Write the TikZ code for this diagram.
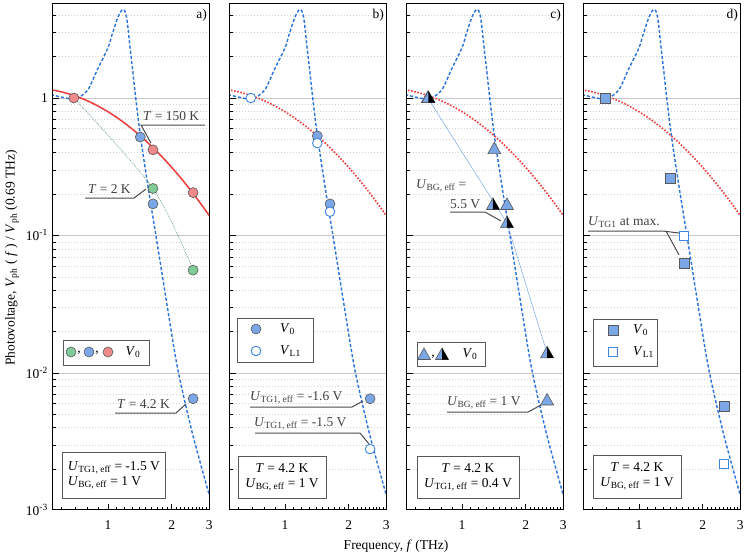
\documentclass[tikz,border=0pt]{standalone}
\usepackage{fontspec}
\setmainfont{Liberation Serif}
\begin{document}
\begin{tikzpicture}[x=1pt,y=-1pt,font=\fontsize{13.5}{15}\selectfont,
  bdash/.style={draw=lblue,line width=1.4pt,dash pattern=on 3.2pt off 2pt},
  rdot/.style={draw=lred,line width=1.6pt,dash pattern=on 1.6pt off 1.6pt},
  rsolid/.style={draw=lred,line width=1.5pt},
  grmaj/.style={draw=black!22,line width=0.8pt},
  grmin/.style={draw=black!18,line width=0.5pt,dash pattern=on 1.5pt off 1.5pt},
  mk/.style={draw=black!65,line width=0.6pt},
  box/.style={draw=black!65,line width=0.8pt,fill=white,inner sep=3pt},
  lead/.style={draw=black!70,line width=1pt},
  ann/.style={text=black!75,inner sep=0pt}]
\definecolor{mblue}{HTML}{7BA7E6}
\definecolor{oblue}{HTML}{3F86E0}
\definecolor{lblue}{HTML}{2A72DC}
\definecolor{lred}{HTML}{EE3B3B}
\definecolor{mred}{HTML}{F08A8A}
\definecolor{mgreen}{HTML}{80CC98}
\tikzset{
 fc/.pic={\draw[mk,fill=mblue] (0,0) circle[radius=5pt];},
 rc/.pic={\draw[mk,fill=mred] (0,0) circle[radius=5pt];},
 gc/.pic={\draw[mk,fill=mgreen] (0,0) circle[radius=5pt];},
 oc/.pic={\draw[draw=oblue,line width=0.9pt,fill=white] (0,0) circle[radius=4.8pt];},
 tri/.pic={\draw[mk,fill=mblue] (-6.5pt,-4.5pt)--(6.5pt,-4.5pt)--(0,7pt)--cycle;},
 trib/.pic={\draw[mk,fill=mblue] (-6.5pt,-4.5pt)--(6.5pt,-4.5pt)--(0,7pt)--cycle;
            \fill[black] (0,7pt)--(6.5pt,-4.5pt)--(0,-4.5pt)--cycle;},
 fsq/.pic={\draw[mk,fill=mblue] (-5pt,-5pt) rectangle (5pt,5pt);},
 osq/.pic={\draw[draw=oblue,line width=0.9pt,fill=white] (-4.5pt,-4.5pt) rectangle (4.5pt,4.5pt);}
}
\def\bluecurve{plot[smooth] coordinates {(-0.2696,0.025) (-0.2076,0.003) (-0.1549,-0.006) (-0.0969,0.055) (-0.0506,0.205) (0.0000,0.365) (0.0170,0.45) (0.0414,0.565) (0.055,0.615) (0.065,0.638) (0.0719,0.645) (0.079,0.635) (0.088,0.585) (0.0950,0.50) (0.1038,0.37) (0.1173,0.19) (0.1271,0.05) (0.1523,-0.27) (0.1903,-0.66) (0.226,-1) (0.28,-1.52) (0.330,-1.98) (0.40,-2.45) (0.4871,-2.94)}}
\def\redcurve{plot[domain=-0.27:0.487,samples=40] (\x,{-0.10-0.9485*\x-1.324*\x*\x})}
\fill[white] (0,0) rectangle (747,558);
\useasboundingbox (0,0) rectangle (747,558);
% panels
\foreach \L/\lab in {53/a,230/b,407/c,584/d}{
 \begin{scope}[shift={(\L+55,98)},x=212pt,y=137.5pt]
  \foreach \n in {-3,-2,-1,0}{
   \foreach \k in {2,...,9}{
     \pgfmathsetmacro\yy{\n+log10(\k)}
     \ifdim\yy pt<0.684pt
       \draw[grmin] (-0.2596,\yy) -- (0.4771,\yy);
       \draw[black,line width=0.6pt] (-0.2596,\yy) -- ++(3pt,0);
     \fi}}
  \foreach \n in {-2,-1,0}{
   \draw[grmaj] (-0.2596,\n) -- (0.4771,\n);
   \draw[black,line width=0.7pt] (-0.2596,\n) -- ++(6pt,0);}
  \foreach \f in {0.6,0.7,0.8,0.9,1.1,1.2,1.3,1.4,1.5,1.6,1.7,1.8,1.9,2.1,2.2,2.3,2.4,2.5,2.6,2.7,2.8,2.9}{
   \pgfmathsetmacro\xx{log10(\f)}
   \draw[black,line width=0.6pt] (\xx,-2.996) -- ++(0,3pt);}
  \foreach \f/\t in {1/1,2/2,3/3}{
   \pgfmathsetmacro\xx{log10(\f)}
   \draw[black,line width=0.7pt] (\xx,-2.996) -- ++(0,6pt);
   \node[anchor=north,inner sep=0pt] (xt\lab\f) at (\xx,-3.07) {\t};}
  \begin{scope}
   \clip (-0.2596,-2.996) rectangle (0.4771,0.684);
   \draw[bdash] \bluecurve;
   \ifnum\L=53 \draw[rsolid] \redcurve;\else\draw[rdot] \redcurve;\fi
  \end{scope}
  \draw[black,line width=1pt] (-0.2596,-2.996) rectangle (0.4771,0.684);
 \end{scope}
 \node[anchor=north east,inner sep=0pt] (lab\lab) at (\L+154,9) {\lab)};
}
% panel a
\begin{scope}[shift={(108,98)},x=212pt,y=137.5pt]
 \draw[draw=mgreen!80!black,line width=0.6pt,dash pattern=on 1pt off 1pt] plot[smooth] coordinates {(-0.1612,0) (0.2122,-0.658) (0.4014,-1.252)};
 \pic at (-0.1612,0) {rc};
 \pic at (0.2122,-0.377) {rc};
 \pic at (0.4014,-0.688) {rc};
 \pic at (0.1523,-0.284) {fc};
 \pic at (0.2122,-0.770) {fc};
 \pic at (0.4014,-2.187) {fc};
 \pic at (0.2122,-0.658) {gc};
 \pic at (0.4014,-1.252) {gc};
\end{scope}
\node[ann,anchor=base west] (a1) at (143,120) {\textit{T} = 150 K};
\draw[lead] (205,125) -- (141,125) -- (151,143);
\node[ann,anchor=base west] (a2) at (88,193) {\textit{T} = 2 K};
\draw[lead] (85,198) -- (134,198) -- (146,189);
\node[ann,anchor=base west] (a3) at (117,408) {\textit{T} = 4.2 K};
\draw[lead] (115,413) -- (176,413) -- (186,404);
\node[box,minimum width=86pt,minimum height=25pt] (lga) at (106,352.5) {};
\pic at (71,352) {gc}; \pic at (89,352) {fc}; \pic at (108,352) {rc};
\node[inner sep=0pt] at (79,353) {,}; \node[inner sep=0pt] at (97,353) {,};
\node[inner sep=0pt] (lgat) at (133,352) {\textit{V}\textsubscript{0}};
\node[box,minimum width=103pt,minimum height=46pt,align=left,anchor=north west,inner sep=2pt] (ia) at (62,452) {\textit{U}\textsubscript{TG1, eff} = -1.5 V\\\textit{U}\textsubscript{BG, eff} = 1 V};
% panel b
\begin{scope}[shift={(285,98)},x=212pt,y=137.5pt]
 \pic at (0.1523,-0.276) {fc};
 \pic at (0.2122,-0.770) {fc};
 \pic at (0.4014,-2.187) {fc};
 \pic at (-0.1612,0) {oc};
 \pic at (0.1523,-0.328) {oc};
 \pic at (0.2122,-0.827) {oc};
 \pic at (0.4014,-2.553) {oc};
\end{scope}
\node[box,minimum width=76pt,minimum height=44pt] (lgb) at (275,340) {};
\pic at (256,329) {fc}; \pic at (256,351) {oc};
\node[inner sep=0pt,anchor=west] (lgb1) at (280,329) {\textit{V}\textsubscript{0}};
\node[inner sep=0pt,anchor=west] (lgb2) at (280,351) {\textit{V}\textsubscript{L1}};
\node[ann,anchor=base west] (b1) at (250,400) {\textit{U}\textsubscript{TG1, eff} = -1.6 V};
\draw[lead] (250,407) -- (352,407) -- (363,401);
\node[ann,anchor=base west] (b2) at (254,426) {\textit{U}\textsubscript{TG1, eff} = -1.5 V};
\draw[lead] (255,433) -- (360,433) -- (369,444);
\node[box,minimum width=88pt,minimum height=42pt,align=center,inner sep=2pt] (ib) at (282,477) {\textit{T} = 4.2 K\\\textit{U}\textsubscript{BG, eff} = 1 V};
% panel c
\begin{scope}[shift={(462,98)},x=212pt,y=137.5pt]
 \draw[draw=oblue!70,line width=0.5pt] (-0.1612,0) -- (0.2122,-0.910) -- (0.4014,-1.857);
 \pic at (-0.1612,0) {tri};
 \pic at (0.1523,-0.372) {tri};
 \pic at (0.2122,-0.778) {tri};
 \pic at (0.4014,-2.20) {tri};
 \pic at (-0.1582,0) {trib};
 \pic at (0.1461,-0.778) {trib};
 \pic at (0.2122,-0.910) {trib};
 \pic at (0.4014,-1.857) {trib};
\end{scope}
\node[ann,anchor=base west] (c1) at (416,188) {\textit{U}\textsubscript{BG, eff} =};
\node[ann,anchor=base west] (c2) at (450,208) {5.5 V};
\draw[lead] (450,212) -- (485,212) -- (501,221);
\node[ann,anchor=base west] (c3) at (447,405) {\textit{U}\textsubscript{BG, eff} = 1 V};
\draw[lead] (447,412) -- (528,412) -- (541,405);
\node[box,minimum width=68pt,minimum height=24pt] (lgc) at (451,354) {};
\pic at (424,355) {tri}; \pic at (442,355) {trib};
\node[inner sep=0pt] at (433,357) {,};
\node[inner sep=0pt] (lgct) at (470,354) {\textit{V}\textsubscript{0}};
\node[box,minimum width=102pt,minimum height=42pt,align=center,inner sep=2pt] (ic) at (468,477) {\textit{T} = 4.2 K\\\textit{U}\textsubscript{TG1, eff} = 0.4 V};
% panel d
\begin{scope}[shift={(639,98)},x=212pt,y=137.5pt]
 \pic at (-0.1612,0) {fsq};
 \pic at (0.1461,-0.585) {fsq};
 \pic at (0.2122,-1.20) {fsq};
 \pic at (0.4014,-2.244) {fsq};
 \pic at (0.2122,-1.004) {osq};
 \pic at (0.4014,-2.658) {osq};
\end{scope}
\node[ann,anchor=base west] (d1) at (588,225) {\textit{U}\textsubscript{TG1} at max.};
\draw[lead] (588,231) -- (663,231) -- (679,233);
\draw[lead] (666,231) -- (679,255);
\node[box,minimum width=64pt,minimum height=47pt] (lgd) at (625,342.5) {};
\pic at (613,330) {fsq}; \pic at (613,352) {osq};
\node[inner sep=0pt,anchor=west] (lgd1) at (633,330) {\textit{V}\textsubscript{0}};
\node[inner sep=0pt,anchor=west] (lgd2) at (633,352) {\textit{V}\textsubscript{L1}};
\node[box,minimum width=88pt,minimum height=43pt,align=center,inner sep=2pt] (id) at (637,476.5) {\textit{T} = 4.2 K\\\textit{U}\textsubscript{BG, eff} = 1 V};
% axis labels
\node[anchor=east,inner sep=0pt] (y0) at (48,98) {1};
\node[anchor=east,inner sep=0pt] (y1) at (48,235) {10\textsuperscript{-1}};
\node[anchor=east,inner sep=0pt] (y2) at (48,373) {10\textsuperscript{-2}};
\node[anchor=east,inner sep=0pt] (y3) at (48,510) {10\textsuperscript{-3}};
\node[rotate=90,inner sep=0pt] (ylab) at (12,258) {Photovoltage, \textit{V}\textsubscript{ph} ( \textit{f} ) / \textit{V}\textsubscript{ph} (0.69 THz)};
\node[inner sep=0pt] (xlab) at (396,546) {Frequency, \textit{f} (THz)};
\end{tikzpicture}
\end{document}
